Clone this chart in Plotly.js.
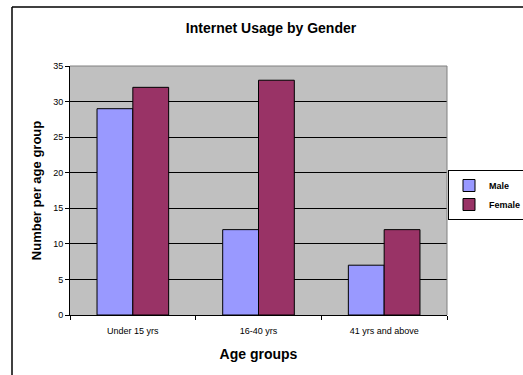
<!DOCTYPE html>
<html>
<head>
<meta charset="utf-8">
<script src="https://cdn.plot.ly/plotly-3.0.1.min.js"></script>
<style>
html,body{margin:0;padding:0;background:#fff;}
#chart{width:523px;height:375px;}
</style>
</head>
<body>
<div id="chart"></div>
<script>
var categories = ["Under 15 yrs", "16-40 yrs", "41 yrs and above"];
var maleValues = [29, 12, 7];
var femaleValues = [32, 33, 12];
var seriesNames = ["Male", "Female"];
var yTicks = [0, 5, 10, 15, 20, 25, 30, 35];

var FONT = "Arial, 'Liberation Sans', sans-serif";

var traces = [
  {type: "bar", name: "<b>" + seriesNames[0] + "</b>", x: categories, y: maleValues,
   marker: {color: "#9999FF", line: {color: "#000000", width: 1}}},
  {type: "bar", name: "<b>" + seriesNames[1] + "</b>", x: categories, y: femaleValues,
   marker: {color: "#993366", line: {color: "#000000", width: 1}}}
];

// plot area: x 70..447, y 66..315
var L = 70, R = 447, T = 66, B = 315;
function px(x){ return (x - L) / (R - L); }
function py(y){ return (B - y) / (B - T); }

var layout = {
  width: 523, height: 375,
  margin: {l: L, r: 523 - R, t: T, b: 375 - B, pad: 0, autoexpand: false},
  paper_bgcolor: "#FFFFFF",
  plot_bgcolor: "#C0C0C0",
  font: {family: FONT, color: "#000000", size: 9},
  barmode: "group",
  bargap: 0.43,
  bargroupgap: 0,
  title: {text: "<b>Internet Usage by Gender</b>", font: {family: FONT, size: 14, color: "#000"},
          x: px(271), xref: "paper", xanchor: "center", y: 1 - 28/375, yref: "container", yanchor: "middle"},
  xaxis: {
    type: "category",
    tickson: "boundaries",
    ticks: "outside", ticklen: 4, tickcolor: "#000",
    ticklabelstandoff: 7,
    showline: true, linecolor: "#000", linewidth: 1,
    showgrid: false,
    tickfont: {family: FONT, size: 9},
    title: {text: "<b>Age groups</b>", font: {family: FONT, size: 14}, standoff: 14}
  },
  yaxis: {
    range: [0, 35],
    tickvals: yTicks,
    ticks: "outside", ticklen: 4, tickcolor: "#000",
    showline: true, linecolor: "#000", linewidth: 1,
    showgrid: true, gridcolor: "#000", gridwidth: 1,
    zeroline: false,
    tickfont: {family: FONT, size: 9},
    title: {text: "<b>Number per age group</b>", font: {family: FONT, size: 13}, standoff: 8}
  },
  showlegend: true,
  legend: {
    x: px(448), y: py(170), xanchor: "left", yanchor: "top",
    bgcolor: "#FFFFFF", bordercolor: "#000", borderwidth: 1,
    font: {family: FONT, size: 9, color: "#000"},
    itemwidth: 30, tracegroupgap: 0
  },
  shapes: [
    {type: "line", xref: "paper", yref: "paper", x0: 0, x1: 1, y0: 1, y1: 1, line: {color: "#808080", width: 1}},
    {type: "line", xref: "paper", yref: "paper", x0: 1, x1: 1, y0: 0, y1: 1, line: {color: "#808080", width: 1}},
    {type: "line", xref: "paper", yref: "paper", x0: px(12), x1: px(600), y0: py(7), y1: py(7), line: {color: "#000", width: 1.5}},
    {type: "line", xref: "paper", yref: "paper", x0: px(12), x1: px(12), y0: py(7), y1: py(400), line: {color: "#000", width: 1.5}}
  ]
};

Plotly.newPlot("chart", traces, layout, {displayModeBar: false, staticPlot: true});
</script>
</body>
</html>
